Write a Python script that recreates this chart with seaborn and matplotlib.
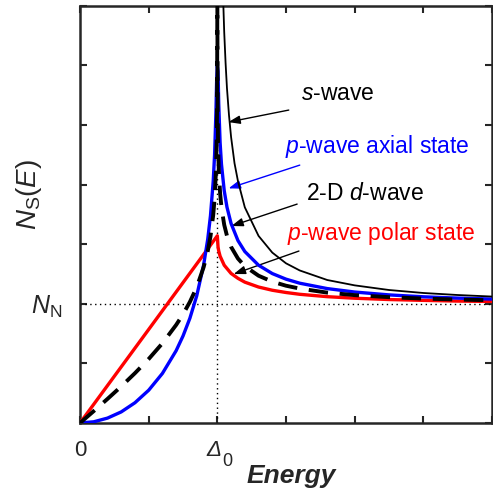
# Densidad de estados de superconductores (s, p axial, p polar, d 2-D)
import matplotlib
matplotlib.use("Agg")
import matplotlib.pyplot as plt
import seaborn as sns

# --------------------------
# Datos (E en unidades de Delta0, N en unidades de N_N)
# --------------------------
E_s = [1.02, 1.03, 1.04, 1.05, 1.06, 1.07, 1.085, 1.10, 1.125, 1.15, 1.20, 1.30,
       1.40, 1.50, 1.60, 1.80, 2.00, 2.25, 2.50, 2.75, 3.00]
N_s = [5.07, 4.17, 3.64, 3.28, 3.02, 2.81, 2.58, 2.40, 2.18, 2.03, 1.81, 1.57,
       1.43, 1.34, 1.28, 1.20, 1.155, 1.116, 1.091, 1.074, 1.061]

E_axial = [0, 0.1, 0.2, 0.3, 0.4, 0.5, 0.6, 0.7, 0.75, 0.8, 0.85, 0.9, 0.93, 0.95,
           0.97, 0.98, 0.99, 0.995, 1.0, 1.005, 1.01, 1.02, 1.03, 1.05, 1.07, 1.1,
           1.15, 1.2, 1.3, 1.4, 1.5, 1.6, 1.8, 2.0, 2.25, 2.5, 2.75, 3.0]
N_axial = [0, 0.010, 0.041, 0.093, 0.170, 0.275, 0.416, 0.607, 0.730, 0.879, 1.068,
           1.325, 1.542, 1.740, 2.030, 2.252, 2.620, 2.880, 3.000, 2.950, 2.680,
           2.354, 2.171, 1.950, 1.812, 1.674, 1.531, 1.439, 1.324, 1.254, 1.207,
           1.173, 1.128, 1.099, 1.075, 1.059, 1.048, 1.040]

E_d = [0, 0.1, 0.2, 0.3, 0.4, 0.5, 0.6, 0.7, 0.75, 0.8, 0.85, 0.9, 0.93, 0.95, 0.97,
       0.98, 0.99, 0.995, 0.998, 1.0, 1.002, 1.005, 1.01, 1.02, 1.03, 1.05, 1.07,
       1.1, 1.15, 1.2, 1.3, 1.4, 1.5, 1.6, 1.8, 2.0, 2.25, 2.5, 2.75, 3.0]
N_d = [0, 0.100, 0.202, 0.307, 0.418, 0.537, 0.669, 0.823, 0.912, 1.016, 1.140,
       1.307, 1.441, 1.565, 1.746, 1.884, 2.115, 2.342, 2.637, 3.600, 2.642, 2.355,
       2.140, 1.929, 1.809, 1.663, 1.571, 1.478, 1.380, 1.316, 1.236, 1.186, 1.152,
       1.128, 1.094, 1.073, 1.056, 1.044, 1.036, 1.030]

E_polar = [0, 0.5, 1.0, 1.005, 1.01, 1.02, 1.05, 1.1, 1.15, 1.2, 1.3, 1.4, 1.5,
           1.6, 1.8, 2.0, 2.25, 2.5, 2.75, 3.0]
N_polar = [0, 0.785, 1.571, 1.478, 1.444, 1.400, 1.324, 1.255, 1.214, 1.182,
           1.141, 1.114, 1.095, 1.080, 1.060, 1.047, 1.036, 1.029, 1.023, 1.020]

# Ticks y etiquetas
x_ticks = [0, 0.5, 1.0, 1.5, 2.0, 2.5, 3.0]
x_labels = ["0", "", "", "", "", "", ""]
y_ticks = [0, 0.5, 1.0, 1.5, 2.0, 2.5, 3.0, 3.5]
y_labels = ["", "", r"$N_{\mathrm{N}}$", "", "", "", "", ""]

# Etiquetas de curvas: (texto, color, posición texto, cola flecha, punta flecha)
labels = [
    (r"$s$-wave", "black", (1.606, 2.71), (1.52, 2.626), (1.080, 2.525)),
    (r"$p$-wave axial state", "blue", (1.496, 2.265), (1.60, 2.164), (1.082, 1.969)),
    (r"2-D $d$-wave", "black", (1.642, 1.871), (1.581, 1.837), (1.102, 1.653)),
    (r"$p$-wave polar state", "red", (1.509, 1.535), (1.594, 1.443), (1.119, 1.250)),
]

# --------------------------
# Estilo
# --------------------------
sns.set_style("ticks")
plt.rcParams["font.family"] = ["Liberation Sans", "DejaVu Sans"]
plt.rcParams["mathtext.fontset"] = "custom"
plt.rcParams["mathtext.rm"] = "Liberation Sans"
plt.rcParams["mathtext.it"] = "Liberation Sans:italic"
plt.rcParams["mathtext.bf"] = "Liberation Sans:bold"

fig = plt.figure(figsize=(4.93, 4.93), dpi=100)
ax = fig.add_axes([0.1623, 0.142, 0.8357, 0.846])

# Líneas de referencia punteadas
ax.axvline(1.0, color="black", lw=1.0, ls=(0, (1, 2.5)), zorder=1)
ax.axhline(1.0, color="black", lw=1.0, ls=(0, (1, 2.5)), zorder=1)

# Curvas
sns.lineplot(x=E_polar, y=N_polar, ax=ax, color="red", lw=2.4, zorder=3)
sns.lineplot(x=E_axial, y=N_axial, ax=ax, color="blue", lw=2.4, zorder=4)
sns.lineplot(x=E_d, y=N_d, ax=ax, color="black", lw=2.8,
             linestyle=(0, (5, 3)), zorder=5)
sns.lineplot(x=E_s, y=N_s, ax=ax, color="black", lw=1.3, zorder=6)

# Anotaciones con flechas
for text, color, pos, tail, head in labels:
    ax.text(pos[0], pos[1], text, color=color, fontsize=16.5,
            ha="left", va="baseline")
    ax.annotate("", xy=head, xytext=tail,
                arrowprops=dict(arrowstyle="-|>,head_length=0.7,head_width=0.25",
                                color="blue" if color == "blue" else "black",
                                lw=1.0, shrinkA=0, shrinkB=0))

# Ejes
ax.set_xlim(0, 3.0)
ax.set_ylim(0, 3.5)
ax.set_xticks(x_ticks)
ax.set_xticklabels(x_labels, fontsize=16)
ax.set_yticks(y_ticks)
ax.set_yticklabels(y_labels, fontsize=18)
ax.tick_params(direction="in", top=True, right=True, length=5, width=1.5)
ax.tick_params(axis="x", pad=12)
ax.tick_params(axis="y", pad=13)
for sp in ax.spines.values():
    sp.set_linewidth(1.8)

# Etiqueta Delta_0 (Delta en cursiva con subíndice 0)
xt = ax.get_xaxis_transform()
ax.text(1.03, -0.078, "Δ", transform=xt, fontsize=16, fontstyle="italic",
        ha="right", va="baseline")
ax.text(1.035, -0.102, "0", transform=xt, fontsize=13,
        ha="left", va="baseline")

ax.set_xlabel("Energy", fontsize=19, fontweight="bold", fontstyle="italic")
ax.xaxis.set_label_coords(0.512, -0.098)
ax.set_ylabel(r"$N_{\mathrm{S}}(E)$", fontsize=20)
ax.yaxis.set_label_coords(-0.088, 0.547)

fig.savefig("out.png", dpi=100)
